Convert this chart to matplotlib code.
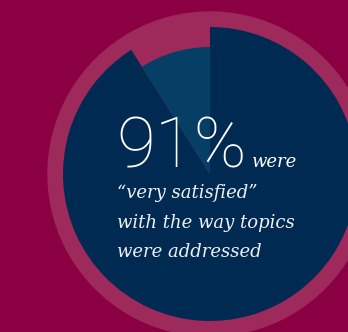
import matplotlib.pyplot as plt
from matplotlib.patches import Circle

# data
labels = ["very satisfied", "other"]
shares = [91, 9]
headline = "91%"
caption_lines = ["\u201cvery satisfied\u201d", "with the way topics", "were addressed"]

bg = "#8b0043"
ring = "#9d2a5a"
navy = "#012a53"
teal = "#063f66"

W, H = 348, 332
fig = plt.figure(figsize=(W / 100, H / 100), dpi=100, facecolor=bg)
ax = fig.add_axes([0, 0, 1, 1])
ax.set_facecolor(bg)

cx, cy = 210, H - 174

# light ring behind everything
ax.add_patch(Circle((cx, cy), 162, color=ring, zorder=0))

# big slice (full radius) and small slice (shorter radius)
ax.pie(shares, colors=[navy, "none"], radius=147, center=(cx, cy),
       startangle=90, counterclock=False, frame=True,
       wedgeprops=dict(linewidth=0))
ax.pie(shares, colors=["none", teal], radius=127, center=(cx, cy),
       startangle=90, counterclock=False, frame=True,
       wedgeprops=dict(linewidth=0))

ax.set_xlim(0, W)
ax.set_ylim(0, H)
ax.set_aspect("auto")
ax.axis("off")

big = ax.text(116, H - 167, headline, color="white", fontsize=51, family="Roboto",
              fontweight="light", ha="left", va="baseline")
fig.canvas.draw()
x_end = big.get_window_extent().x1
ax.text(x_end + 5, H - 167, "were", color="white", fontsize=13, family="DejaVu Serif",
        style="italic", ha="left", va="baseline")
for i, line in enumerate(caption_lines):
    ax.text(117, H - 198 - 29.5 * i, line, color="#eef0f5", fontsize=13,
            family="DejaVu Serif", style="italic", ha="left", va="baseline")

fig.savefig("out.png", dpi=100, facecolor=bg)
